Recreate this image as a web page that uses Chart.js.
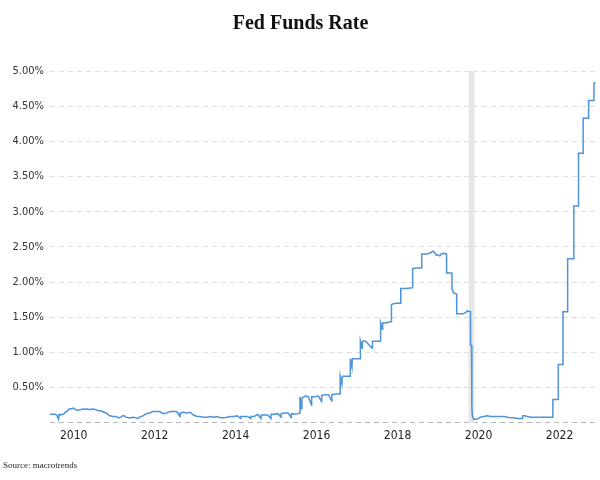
<!DOCTYPE html>
<html>
<head>
<meta charset="utf-8">
<script src="https://cdn.jsdelivr.net/npm/chart.js@4"></script>
<style>
  html, body { margin: 0; padding: 0; background: #fff; }
  #wrap { width: 600px; height: 480px; }
</style>
</head>
<body>
<div id="wrap"><canvas id="rate-chart" width="600" height="480"></canvas></div>
<script>
// effective fed funds rate (dates and % values)
const dates = [
  "2009-10-15","2009-11-01","2009-11-15","2009-12-01","2009-12-15","2009-12-31",
  "2010-01-05","2010-01-15","2010-02-01","2010-02-15","2010-03-01","2010-03-15",
  "2010-04-01","2010-04-15","2010-05-01","2010-05-15","2010-06-01","2010-06-15",
  "2010-07-01","2010-07-15","2010-08-01","2010-08-15","2010-09-01","2010-09-15",
  "2010-10-01","2010-10-15","2010-11-01","2010-11-15","2010-12-01","2010-12-15",
  "2011-01-01","2011-01-15","2011-02-01","2011-02-15","2011-03-01","2011-03-15",
  "2011-04-01","2011-04-15","2011-05-01","2011-06-01","2011-07-01","2011-07-15",
  "2011-08-01","2011-08-15","2011-09-01","2011-10-01","2011-11-01","2011-12-01",
  "2011-12-15","2012-01-01","2012-02-01","2012-03-01","2012-04-01","2012-05-01",
  "2012-06-01","2012-07-01","2012-08-01","2012-09-01","2012-10-01","2012-11-01",
  "2012-12-01","2012-12-31","2013-01-02","2013-02-01","2013-03-01","2013-04-01",
  "2013-05-01","2013-06-01","2013-07-01","2013-08-01","2013-09-01","2013-10-01",
  "2013-11-01","2013-12-01","2014-01-01","2014-02-01","2014-03-01","2014-04-01",
  "2014-05-01","2014-06-01","2014-06-30","2014-07-01","2014-08-01","2014-09-01",
  "2014-09-30","2014-10-01","2014-11-01","2014-12-01","2014-12-31","2015-01-02",
  "2015-02-01","2015-03-01","2015-03-31","2015-04-01","2015-05-01","2015-06-01",
  "2015-06-30","2015-07-01","2015-08-01","2015-09-01","2015-09-30","2015-10-01",
  "2015-11-01","2015-12-01","2015-12-16","2015-12-17","2015-12-31","2016-01-04",
  "2016-02-01","2016-03-01","2016-03-31","2016-04-01","2016-05-01","2016-06-01",
  "2016-06-30","2016-07-01","2016-08-01","2016-09-01","2016-09-30","2016-10-01",
  "2016-11-01","2016-12-01","2016-12-14","2016-12-15","2016-12-30","2017-01-03",
  "2017-02-01","2017-03-15","2017-03-16","2017-03-31","2017-04-03","2017-05-01",
  "2017-06-14","2017-06-15","2017-06-30","2017-07-03","2017-08-01","2017-09-29",
  "2017-10-02","2017-11-01","2017-12-13","2017-12-14","2017-12-29","2018-01-02",
  "2018-02-01","2018-03-21","2018-03-22","2018-04-01","2018-05-01","2018-06-13",
  "2018-06-14","2018-07-01","2018-08-01","2018-09-26","2018-09-27","2018-10-01",
  "2018-11-01","2018-12-19","2018-12-20","2019-01-01","2019-02-01","2019-03-01",
  "2019-04-01","2019-04-15","2019-05-01","2019-05-15","2019-06-01","2019-06-15",
  "2019-07-01","2019-07-31","2019-08-01","2019-09-18","2019-09-19","2019-10-01",
  "2019-10-30","2019-10-31","2019-11-01","2019-12-01","2020-01-01","2020-01-30",
  "2020-02-01","2020-03-03","2020-03-04","2020-03-13","2020-03-16","2020-03-20",
  "2020-04-01","2020-05-01","2020-06-01","2020-07-01","2020-08-01","2020-09-01",
  "2020-10-01","2020-11-01","2020-12-01","2021-01-01","2021-02-01","2021-03-01",
  "2021-04-01","2021-05-01","2021-06-16","2021-06-17","2021-07-01","2021-08-01",
  "2021-09-01","2021-10-01","2021-11-01","2021-12-01","2022-01-01","2022-02-01",
  "2022-03-16","2022-03-17","2022-05-04","2022-05-05","2022-06-15","2022-06-16",
  "2022-07-27","2022-07-28","2022-09-21","2022-09-22","2022-11-02","2022-11-03",
  "2022-12-14","2022-12-15","2023-02-01","2023-02-02","2023-03-22","2023-03-23",
  "2023-04-05"
];
const rates = [
  0.12,0.12,0.12,0.12,0.11,0.05,
  0.12,0.11,0.12,0.12,0.15,0.16,
  0.19,0.20,0.20,0.21,0.19,0.18,
  0.18,0.19,0.19,0.20,0.19,0.20,
  0.19,0.19,0.20,0.19,0.19,0.18,
  0.17,0.17,0.16,0.15,0.14,0.13,
  0.10,0.10,0.09,0.09,0.07,0.08,
  0.10,0.10,0.08,0.07,0.08,0.07,
  0.06,0.08,0.10,0.13,0.14,0.16,
  0.16,0.16,0.13,0.14,0.16,0.16,
  0.16,0.09,0.14,0.15,0.14,0.15,
  0.11,0.09,0.09,0.08,0.08,0.09,
  0.08,0.09,0.07,0.07,0.08,0.09,
  0.09,0.10,0.06,0.09,0.09,0.09,
  0.06,0.09,0.09,0.12,0.06,0.11,
  0.11,0.11,0.06,0.12,0.12,0.13,
  0.08,0.13,0.14,0.14,0.07,0.13,
  0.12,0.13,0.14,0.37,0.20,0.35,
  0.38,0.37,0.25,0.37,0.37,0.38,
  0.30,0.39,0.40,0.40,0.31,0.40,
  0.41,0.41,0.41,0.66,0.55,0.66,
  0.66,0.66,0.91,0.79,0.91,0.91,
  0.91,1.16,1.06,1.16,1.16,1.06,
  1.16,1.16,1.16,1.42,1.33,1.42,
  1.42,1.44,1.68,1.69,1.70,1.70,
  1.91,1.91,1.91,1.92,2.18,2.19,
  2.20,2.20,2.40,2.40,2.40,2.41,
  2.44,2.42,2.38,2.39,2.37,2.40,
  2.41,2.40,2.13,2.13,1.90,1.85,
  1.83,1.58,1.55,1.55,1.55,1.58,
  1.59,1.58,1.10,1.10,0.25,0.10,
  0.05,0.05,0.08,0.09,0.10,0.09,
  0.09,0.09,0.09,0.09,0.08,0.07,
  0.07,0.06,0.06,0.10,0.10,0.09,
  0.08,0.08,0.08,0.08,0.08,0.08,
  0.08,0.33,0.33,0.83,0.83,1.58,
  1.58,2.33,2.33,3.08,3.08,3.83,
  3.83,4.33,4.33,4.58,4.58,4.83,
  4.83
];
const yearTicks = [2010, 2012, 2014, 2016, 2018, 2020, 2022];
const recession = ["2020-02-15", "2020-04-08"];

function toYear(s) {
    const d = Date.parse(s + "T00:00:00Z");
    const y = new Date(d).getUTCFullYear();
    const start = Date.UTC(y, 0, 1);
    return y + (d - start) / (Date.UTC(y + 1, 0, 1) - start);
}

const points = dates.map((d, i) => ({ x: toYear(d), y: rates[i] }));

// grey band for the recession, drawn under the line
const recessionBand = {
    id: "recessionBand",
    beforeDatasetsDraw(chart) {
        const { ctx, chartArea, scales } = chart;
        const x0 = scales.x.getPixelForValue(toYear(recession[0]));
        const x1 = scales.x.getPixelForValue(toYear(recession[1]));
        ctx.save();
        ctx.fillStyle = "#e6e6e6";
        ctx.fillRect(x0, chartArea.top, x1 - x0, chartArea.bottom - chartArea.top);
        ctx.restore();
    }
};

const sans = "'DejaVu Sans Condensed', 'DejaVu Sans', sans-serif";
const serif = "'Liberation Serif', 'DejaVu Serif', serif";

new Chart(document.getElementById("rate-chart").getContext("2d"), {
    type: "line",
    data: {
        datasets: [{
            label: "Fed Funds Rate",
            data: points,
            borderColor: "#4f93d8",
            borderWidth: 1.5,
            pointRadius: 0,
            tension: 0,
            fill: false
        }]
    },
    options: {
        responsive: false,
        animation: false,
        layout: { padding: { left: 3, right: 2, top: 0, bottom: 0 } },
        plugins: {
            legend: { display: false },
            tooltip: { enabled: false },
            title: {
                display: true,
                text: "Fed Funds Rate",
                color: "#111",
                font: { family: serif, size: 20, weight: "bold" },
                padding: { top: 12, bottom: 35 }
            },
            subtitle: {
                display: true,
                text: "Source: macrotrends",
                position: "bottom",
                align: "start",
                color: "#222",
                font: { family: serif, size: 9 },
                padding: { top: 11, bottom: 9 }
            }
        },
        scales: {
            x: {
                type: "linear",
                min: toYear(dates[0]),
                max: 2023.32,
                grid: { display: false, drawTicks: false },
                border: { display: false },
                afterBuildTicks(scale) {
                    scale.ticks = yearTicks.map(v => ({ value: v }));
                },
                ticks: {
                    color: "#222",
                    font: { family: sans, size: 12 },
                    padding: 6,
                    labelOffset: 15,
                    maxRotation: 0,
                    callback: v => String(v)
                }
            },
            y: {
                min: 0,
                max: 5,
                afterFit(scale) { scale.width = 47; },
                grid: {
                    color: ctx => ctx.tick && ctx.tick.value === 0 ? "#b5b5b5" : "#dedede",
                    lineWidth: 1,
                    drawTicks: false
                },
                border: { display: false, dash: [5, 4] },
                ticks: {
                    stepSize: 0.5,
                    color: "#333",
                    font: { family: sans, size: 11 },
                    padding: 6,
                    callback: v => v === 0 ? "" : v.toFixed(2) + "%"
                }
            }
        }
    },
    plugins: [recessionBand]
});
</script>
</body>
</html>
